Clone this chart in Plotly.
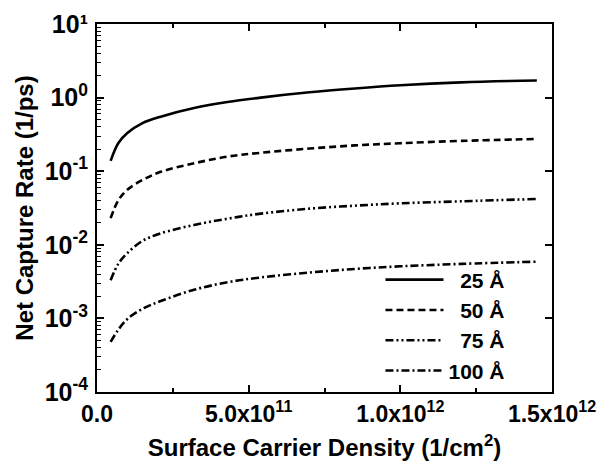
import plotly.graph_objects as go

density = [0.45e11, 0.7e11, 1.0e11, 1.5e11, 2.1e11, 3.2e11, 4.3e11, 5.4e11,
           7.0e11, 8.5e11, 1.0e12, 1.2e12, 1.45e12]
rate_25 = [0.138, 0.24, 0.33, 0.45, 0.55, 0.72, 0.87, 1.00, 1.18, 1.33, 1.47, 1.61, 1.71]
rate_50 = [0.023, 0.040, 0.056, 0.076, 0.098, 0.128, 0.158, 0.178, 0.203, 0.224, 0.240, 0.258, 0.274]
rate_75 = [0.0033, 0.0055, 0.0077, 0.0113, 0.0143, 0.0186, 0.0226, 0.0265, 0.031, 0.034, 0.0366, 0.039, 0.0419]
rate_100 = [0.00048, 0.0007, 0.00098, 0.00135, 0.00172, 0.00245, 0.0031, 0.0036, 0.0042, 0.0047, 0.0051, 0.0055, 0.0059]

series_names = ["\u00a0\u00a025 Å", "\u00a0\u00a050 Å", "\u00a0\u00a075 Å", "100 Å"]
series_dash = ["solid", "7px,4px", "8px,3px,2px,3px,2px,3px", "8px,3px,2px,3px"]

y_tickvals = [1e-4, 1e-3, 1e-2, 1e-1, 1e0, 1e1]
y_ticktext = ["10<sup>-4</sup>", "10<sup>-3</sup>", "10<sup>-2</sup>", "10<sup>-1</sup>",
              "10<sup>0</sup>", "10\u00b9"]
y_minor_mantissas = [2, 3, 4, 5, 6, 7, 8, 9]
y_minor_vals = [m * d for d in y_tickvals[:-1] for m in y_minor_mantissas]
x_tickvals = [0, 5e11, 1e12, 1.5e12]
x_ticktext = ["0.0", "5.0x10<sup>11</sup>", "1.0x10<sup>12</sup>", "1.5x10<sup>12</sup>"]
x_minor_vals = [2.5e11, 7.5e11, 1.25e12]

font_family = "Liberation Sans, Arial, sans-serif"

fig = go.Figure()
for name, ys, dash in zip(series_names, [rate_25, rate_50, rate_75, rate_100], series_dash):
    fig.add_trace(go.Scatter(
        x=density, y=ys, mode="lines", name=name, yaxis="y",
        line=dict(color="black", width=2.6, dash=dash, shape="spline", smoothing=1.0),
    ))

# invisible helper trace so the minor-tick axis is drawn
fig.add_trace(go.Scatter(x=[density[0]], y=[rate_25[0]], yaxis="y2", mode="lines",
                         showlegend=False, hoverinfo="skip", line=dict(width=0)))

# the page body has an 8px margin, so the figure is sized/placed to compensate
fig.update_layout(
    width=594, height=453,
    margin=dict(l=89, r=50, t=16, b=69, autoexpand=False),
    paper_bgcolor="white", plot_bgcolor="white",
    font=dict(family=font_family, size=20, color="black", weight="bold"),
    showlegend=True,
    legend=dict(
        x=0.623, y=0.36, xanchor="left", yanchor="top",
        bgcolor="rgba(0,0,0,0)", borderwidth=0,
        font=dict(family=font_family, size=21, color="black", weight="bold"),
        tracegroupgap=0, itemwidth=58,
    ),
    xaxis=dict(
        range=[0, 1.5e12], showgrid=False, zeroline=False, automargin=False,
        showline=True, linecolor="black", linewidth=2, mirror="all",
        ticks="inside", ticklen=7, tickwidth=1.5, tickcolor="black",
        tickvals=x_tickvals, ticktext=x_ticktext, ticklabeloverflow="allow",
        tickfont=dict(family=font_family, size=23, color="black", weight="bold"),
        minor=dict(ticks="inside", ticklen=4, tickwidth=1.5, tickcolor="black",
                   tickvals=x_minor_vals),
        title=dict(text="Surface Carrier Density (1/cm<sup>2</sup>)",
                   font=dict(family=font_family, size=24, color="black", weight="bold"),
                   standoff=16),
    ),
    yaxis=dict(
        type="log", range=[-4, 1], showgrid=False, zeroline=False, automargin=False,
        showline=True, linecolor="black", linewidth=2, mirror="all",
        ticks="inside", ticklen=7, tickwidth=1.5, tickcolor="black",
        tickvals=y_tickvals, ticktext=y_ticktext, ticklabeloverflow="allow",
        tickfont=dict(family=font_family, size=25, color="black", weight="bold"),
        ticklabelstandoff=2,
        title=dict(text="Net Capture Rate (1/ps)",
                   font=dict(family=font_family, size=24, color="black", weight="bold"),
                   standoff=4),
    ),
    yaxis2=dict(
        type="log", range=[-4, 1], overlaying="y", side="left", anchor="x",
        showgrid=False, zeroline=False, showline=False, automargin=False,
        ticks="inside", ticklen=4, tickwidth=1, tickcolor="black",
        tickvals=y_minor_vals, ticktext=[""] * len(y_minor_vals), showticklabels=True,
    ),
)

fig.write_html("out.html")
